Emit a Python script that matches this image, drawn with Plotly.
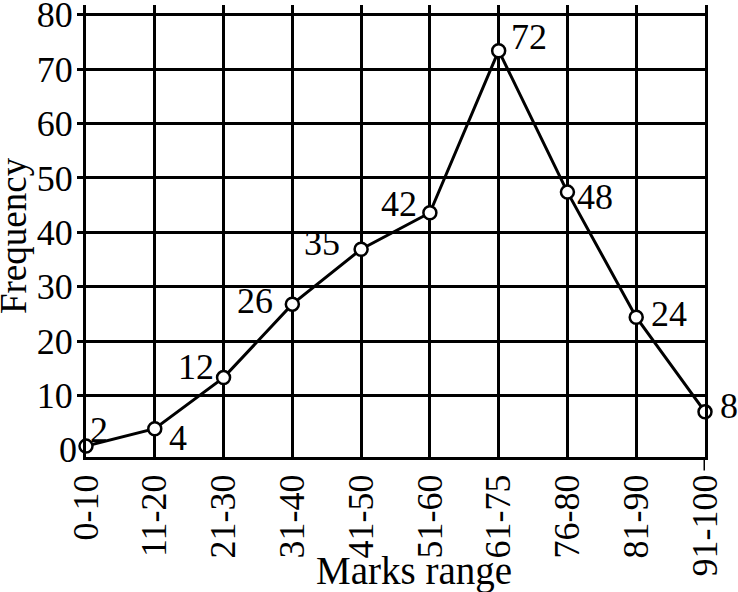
import plotly.graph_objects as go

# ---- data ----
categories = ["0-10", "11-20", "21-30", "31-40", "41-50",
              "51-60", "61-75", "76-80", "81-90", "91-100"]
# vertical position of each plotted point (as drawn)
frequency_plotted = [0.7, 3.9, 13.3, 26.8, 36.9, 43.6, 73.4, 47.4, 24.4, 7.0]
# value printed next to each point
frequency_labels = ["2", "4", "12", "26", "35", "42", "72", "48", "24", "8"]
y_tick_values = [10, 20, 30, 40, 50, 60, 70, 80]
y_zero_label = "0"
x_title = "Marks range"
y_title = "Frequency"

# ---- styling ----
FONT = "Liberation Serif"
# pixel offsets of each value label from its point (layout only)
label_dx = [13, 23, -28, -37, -39, -31, 30, 28, 33, 24]
label_dy = [16, -9, 11, 3, 6, 9, 14, -5, 3, 6]

fig = go.Figure()
fig.add_trace(go.Scatter(
    x=categories, y=frequency_plotted,
    mode="lines+markers",
    line=dict(color="black", width=3),
    marker=dict(symbol="circle", size=13, color="white",
                line=dict(color="black", width=2.5)),
    cliponaxis=False,
    showlegend=False,
    hoverinfo="skip",
))

annotations = []
for cat, val, lab, dx, dy in zip(categories, frequency_plotted, frequency_labels,
                                 label_dx, label_dy):
    annotations.append(dict(
        text=lab, x=cat, y=val, xref="x", yref="y",
        xanchor="center", yanchor="middle", xshift=dx, yshift=dy,
        showarrow=False, font=dict(family=FONT, size=36, color="black")))

annotations += [
    dict(text=y_zero_label, xref="paper", yref="y", x=0, y=0,
         xanchor="right", yanchor="middle", xshift=-7, showarrow=False,
         font=dict(family=FONT, size=36, color="black")),
    dict(text=x_title, xref="paper", yref="paper", x=0.53, y=-0.252,
         xanchor="center", yanchor="middle", showarrow=False,
         font=dict(family=FONT, size=39, color="black")),
    dict(text=y_title, xref="paper", yref="paper", x=-0.118, y=0.491,
         xanchor="center", yanchor="middle", textangle=-90, showarrow=False,
         font=dict(family=FONT, size=37, color="black")),
]

fig.update_layout(
    width=738, height=592,
    margin=dict(l=86, r=33, t=5, b=135, autoexpand=False),
    paper_bgcolor="white", plot_bgcolor="white",
    font=dict(family=FONT, size=36, color="black"),
    xaxis=dict(
        type="category", range=[0, len(categories) - 1], automargin=False,
        tickangle=-90, tickfont=dict(family=FONT, size=36, color="black"),
        showgrid=True, gridcolor="black", gridwidth=3,
        showline=True, linecolor="black", linewidth=3,
        ticks="", zeroline=False, fixedrange=True,
    ),
    yaxis=dict(
        range=[-1.3, 81.8], tickvals=y_tick_values, automargin=False,
        ticklabeloverflow="allow", ticklabelstandoff=-3,
        tickfont=dict(family=FONT, size=36, color="black"),
        showgrid=True, gridcolor="black", gridwidth=3,
        showline=True, linecolor="black", linewidth=3, mirror=True,
        ticks="outside", ticklen=6, tickwidth=3, tickcolor="black",
        zeroline=False, fixedrange=True,
    ),
    annotations=annotations,
    shapes=[
        dict(type="line", xref="x", yref="paper",
             x0=categories[-1], x1=categories[-1], y0=0, y1=-0.03,
             line=dict(color="black", width=3)),
    ],
)

fig.write_html(
    "out.html",
    config={"displayModeBar": False, "staticPlot": True},
    post_script="document.body.style.margin='0px';document.body.style.overflow='hidden';",
)
